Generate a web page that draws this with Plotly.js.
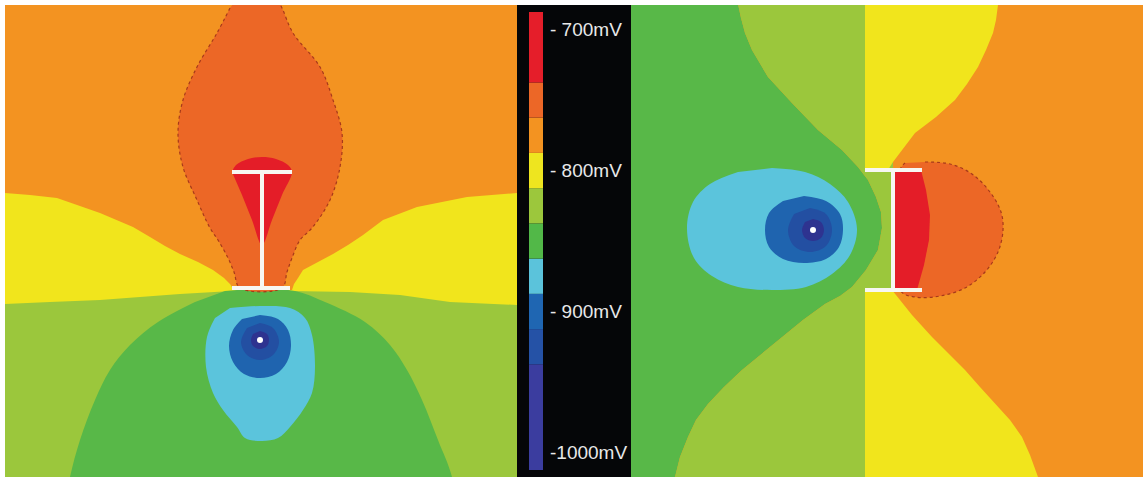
<!DOCTYPE html>
<html><head><meta charset="utf-8">
<script src="https://cdn.plot.ly/plotly-3.0.1.min.js"></script>
<style>html,body{margin:0;padding:0;background:#fff;} #chart{width:1146px;height:477px;}</style>
</head><body><div id="chart"></div>
<script>
// ---------- colour scale (mV bands, colours) ----------
const cbLow    = [-1012.5, -937.5, -912.5, -887.5, -862.5, -837.5, -812.5, -787.5, -762.5, -737.5];
const cbHigh   = [-937.5, -912.5, -887.5, -862.5, -837.5, -812.5, -787.5, -762.5, -737.5, -687.5];
const cbColors = ['#3B3D9F','#2552A6','#1F66B2','#5BC3DB','#52B848','#9CC73C','#EEE51F','#F39321','#EC6727','#E51E2A'];
const cbTickVals = [-700, -800, -900, -1000];
const cbTickText = ['- 700mV', '- 800mV', '- 900mV', '-1000mV'];

// ---------- left panel contour regions (x, y in picture units) ----------
const L_yellow = [[-50,193],[5,193],[30,195],[57,198],[100,213],[133,227],[150,237],[165,246],[180,254],[198,262],[213,270],[224,278],[230,284],[234,290],[292,290],[294,284],[298,278],[303,270],[318,262],[333,254],[348,245],[363,235],[383,220],[417,207],[467,197],[517,193],[570,193],[570,600],[-50,600]];
const L_ygreen = [[-50,304],[5,304],[50,302],[100,300],[180,294],[232,291],[290,291],[350,292],[400,295],[450,302],[517,305],[570,305],[570,600],[-50,600]];
const L_green = [[225,291],[260,289],[295,291],[325,302],[365,322],[390,345],[407,370],[422,400],[438,440],[452,477],[460,530],[60,530],[70,477],[80,440],[95,400],[110,370],[130,345],[158,322],[195,302]];
const L_cyan = [[230,308],[260,306],[290,308],[305,318],[312,335],[315,367],[312,393],[303,410],[290,427],[278,438],[262,441],[245,438],[237,427],[223,410],[213,393],[206,367],[207,337],[215,318]];
const L_blue = [[260,315],[278,319],[288,330],[291,346],[287,362],[276,374],[260,378],[244,374],[233,362],[229,346],[233,330],[242,319]];
const L_blue2 = [[260,323],[273,328],[279,342],[273,355],[260,360],[247,355],[241,342],[247,328]];
const L_indigo = [[260,331],[267,334],[269,340],[267,346],[260,349],[253,346],[251,340],[253,334]];
const L_dot = [260, 340];
const L_orangered = [[240,-5],[275,-5],[282,8],[293,33],[320,67],[333,100],[342,133],[340,167],[330,200],[312,228],[300,240],[292,258],[287,272],[282,288],[240,288],[234,272],[228,258],[218,240],[210,228],[197,200],[183,167],[178,133],[183,100],[197,67],[217,33],[230,8]];
const L_red = [[232,172],[236,165],[248,159],[262,157],[276,159],[288,165],[292,172],[282,195],[272,220],[262,245],[252,220],[242,195]];
const L_electrodeX = [232,292,null,262,262,null,232,290];
const L_electrodeY = [172,172,null,172,288,null,288,288];

// ---------- right panel contour regions ----------
// green / yellow-green boundary, top to bottom
const R_greenEdge = [[735,-10],[738,5],[741,18],[745,33],[752,50],[768,77],[792,103],[818,130],[842,150],[858,167],[868,180],[876,197],[881,212],[882,228],[878,250],[866,270],[852,287],[840,296],[825,304],[803,320],[782,337],[762,353],[742,370],[724,387],[708,404],[696,420],[688,437],[680,457],[675,477],[673,500]];
const R_yellowTop = [[865,-10],[1000,-10],[998,5],[996,20],[993,33],[986,50],[978,67],[967,84],[955,100],[936,117],[915,133],[902,150],[893,162],[888,170],[865,170]];
const R_yellowBot = [[865,290],[892,290],[900,300],[912,315],[932,337],[948,353],[965,370],[980,387],[995,404],[1010,420],[1022,437],[1030,455],[1038,477],[1040,500],[865,500]];
const R_cyan = [[772,168],[805,172],[830,184],[848,202],[857,229],[850,255],[832,274],[806,287],[772,290],[738,287],[712,276],[694,258],[687,229],[693,202],[710,184],[738,172]];
const R_blue = [[804,196],[826,201],[840,214],[843,230],[839,247],[826,259],[804,263],[783,259],[769,247],[765,230],[769,213],[783,201]];
const R_blue2 = [[810,208],[826,214],[832,230],[826,246],[810,252],[794,246],[788,230],[794,214]];
const R_indigo = [[813,219],[821,222],[824,230],[821,238],[813,241],[805,238],[802,230],[805,222]];
const R_dot = [813, 230];
const R_orangered = [[925,162],[950,164],[972,174],[990,192],[1001,212],[1003,230],[998,252],[985,272],[965,288],[940,296],[915,297],[900,290],[900,170],[905,163]];
const R_red = [[893,170],[921,170],[926,190],[930,215],[929,240],[924,265],[917,290],[893,290],[893,230]];
const R_electrodeX = [865,922,null,893,893,null,865,922];
const R_electrodeY = [170,170,null,170,290,null,290,290];

const C = {yellow:'#F1E51C', ygreen:'#9BC73C', green:'#58B848', cyan:'#5BC4DC', blue:'#1F64AF',
           blue2:'#234FA2', indigo:'#2E3390', orangered:'#EC6726', red:'#E41D28', orange:'#F39321'};

function region(pts, color, xa, ya, shape, outline) {
  return {type:'scatter', mode:'lines', x:pts.map(p=>p[0]), y:pts.map(p=>p[1]),
    fill:'toself', fillcolor:color,
    line: outline ? {width:1.2, color:'#A7391B', dash:'dot', shape:shape||'linear'}
                  : {width:0, color:color, shape:shape||'linear'},
    xaxis:xa, yaxis:ya, hoverinfo:'skip', showlegend:false};
}
function electrode(xs, ys, xa, ya) {
  return {type:'scatter', mode:'lines', x:xs, y:ys, line:{width:4, color:'#F7F7F2'},
    xaxis:xa, yaxis:ya, hoverinfo:'skip', showlegend:false, connectgaps:false};
}
function dot(p, xa, ya) {
  return {type:'scatter', mode:'markers', x:[p[0]], y:[p[1]], marker:{size:6, color:'#FFFFFF'},
    xaxis:xa, yaxis:ya, hoverinfo:'skip', showlegend:false};
}
// region left of the green edge, and between the green edge and the electrode line
const R_green = R_greenEdge.concat([[560,500],[560,-10]]);
const R_ygreen = R_greenEdge.concat([[893,500],[893,-10]]);

const traces = [
  region(L_yellow, C.yellow, 'x', 'y'),
  region(L_ygreen, C.ygreen, 'x', 'y'),
  region(L_green, C.green, 'x', 'y', 'spline'),
  region(L_cyan, C.cyan, 'x', 'y', 'spline'),
  region(L_blue, C.blue, 'x', 'y', 'spline'),
  region(L_blue2, C.blue2, 'x', 'y', 'spline'),
  region(L_indigo, C.indigo, 'x', 'y', 'spline'),
  dot(L_dot, 'x', 'y'),
  region(L_orangered, C.orangered, 'x', 'y', 'spline', true),
  region(L_red, C.red, 'x', 'y', 'spline'),
  electrode(L_electrodeX, L_electrodeY, 'x', 'y'),

  region(R_green, C.green, 'x3', 'y3'),
  region(R_ygreen, C.ygreen, 'x3', 'y3'),
  region(R_yellowTop, C.yellow, 'x3', 'y3'),
  region(R_yellowBot, C.yellow, 'x3', 'y3'),
  region(R_cyan, C.cyan, 'x3', 'y3', 'spline'),
  region(R_blue, C.blue, 'x3', 'y3', 'spline'),
  region(R_blue2, C.blue2, 'x3', 'y3', 'spline'),
  region(R_indigo, C.indigo, 'x3', 'y3', 'spline'),
  dot(R_dot, 'x3', 'y3'),
  region(R_orangered, C.orangered, 'x3', 'y3', 'spline', true),
  region(R_red, C.red, 'x3', 'y3', 'linear'),
  electrode(R_electrodeX, R_electrodeY, 'x3', 'y3'),

  {type:'bar', x:cbLow.map(()=>0), base:cbLow, y:cbLow.map((v,i)=>cbHigh[i]-v),
   width:1, marker:{color:cbColors, line:{width:0}}, xaxis:'x2', yaxis:'y2',
   hoverinfo:'skip', showlegend:false}
];

const W = 1146, H = 477;
const hidden = {visible:false, fixedrange:true, showgrid:false, zeroline:false};
const layout = {
  width:W, height:H, margin:{l:0,r:0,t:0,b:0,pad:0},
  paper_bgcolor:'#FFFFFF', plot_bgcolor:C.orange, barmode:'overlay', showlegend:false,
  xaxis:Object.assign({domain:[5/W, 517/W], range:[5,517], anchor:'y'}, hidden),
  yaxis:Object.assign({domain:[0, 472/H], range:[477,5], anchor:'x'}, hidden),
  xaxis3:Object.assign({domain:[631/W, 1143/W], range:[631,1143], anchor:'y3'}, hidden),
  yaxis3:Object.assign({domain:[0, 472/H], range:[477,5], anchor:'x3'}, hidden),
  xaxis2:Object.assign({domain:[529/W, 543/W], range:[-0.5,0.5], anchor:'y2'}, hidden),
  yaxis2:{domain:[7/H, 465/H], range:[-1012.5,-687.5], anchor:'x2', side:'right',
    tickvals:cbTickVals, ticktext:cbTickText, ticks:'', showgrid:false, zeroline:false,
    showline:false, fixedrange:true, ticklabelstandoff:6,
    tickfont:{family:'Liberation Sans, Arial, sans-serif', size:19, color:'#E8E8E8'}},
  shapes:[{type:'rect', xref:'paper', yref:'paper', x0:517/W, x1:631/W, y0:0, y1:472/H,
    fillcolor:'#050608', line:{width:0}, layer:'below'}]
};
Plotly.newPlot('chart', traces, layout, {staticPlot:true, displayModeBar:false});
</script></body></html>
